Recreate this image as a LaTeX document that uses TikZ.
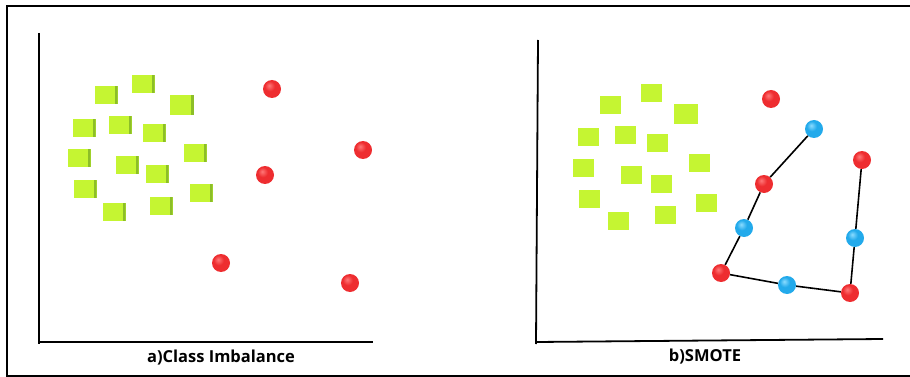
\documentclass[tikz,border=0pt]{standalone}
\usepackage{fontspec}
\setmainfont{Open Sans}
\definecolor{lime}{RGB}{197,245,50}
\definecolor{limedark}{RGB}{140,190,40}
\definecolor{rlight}{RGB}{255,120,120}
\definecolor{rmain}{RGB}{238,45,48}
\definecolor{rdark}{RGB}{160,15,20}
\definecolor{blight}{RGB}{140,220,255}
\definecolor{bmain}{RGB}{35,170,235}
\definecolor{bdark}{RGB}{20,110,185}
\pgfdeclareradialshading{redshade}{\pgfpoint{-8bp}{10bp}}{color(0bp)=(rlight); color(14bp)=(rmain); color(38bp)=(rmain); color(60bp)=(rdark); color(70bp)=(rdark)}
\pgfdeclareradialshading{blueshade}{\pgfpoint{-8bp}{10bp}}{color(0bp)=(blight); color(14bp)=(bmain); color(38bp)=(bmain); color(60bp)=(bdark); color(70bp)=(bdark)}
\tikzset{
  sqflat/.style={rectangle,fill=lime,inner sep=0pt,minimum width=21pt,minimum height=18pt},
  sqdeep/.style={sqflat,minimum width=23pt,path picture={\fill[limedark] ([xshift=-3pt]path picture bounding box.north east) rectangle (path picture bounding box.south east);}},
  rdot/.style={circle,inner sep=0pt,minimum size=18pt,shading=redshade},
  bdot/.style={circle,inner sep=0pt,minimum size=18pt,shading=blueshade},
  link/.style={line width=1.6pt,black},
  axisl/.style={line width=2.6pt,black},
  axisr/.style={line width=1.8pt,black},
  frameline/.style={line width=1.6pt,black},
  caption/.style={font=\fontsize{16.5}{19}\selectfont\bfseries,inner sep=0pt}
}
\begin{document}
\begin{tikzpicture}[x=1pt,y=-1pt]
\useasboundingbox (0,0) rectangle (910,377);
% frame
\coordinate (f1) at (910,6);
\coordinate (f2) at (7,6);
\coordinate (f3) at (7,376);
\coordinate (f4) at (910,376);
\draw[frameline] (f1) -- (f2) -- (f3) -- (f4);
% left axes
\coordinate (la) at (39,33);
\coordinate (lo) at (39,344);
\coordinate (lc) at (38,342);
\coordinate (lx) at (373,342);
\draw[axisl] (la) -- (lo);
\draw[axisl] (lc) -- (lx);
% right axes
\coordinate (ra) at (538,40);
\coordinate (ro) at (536,344);
\coordinate (rc) at (536,342);
\coordinate (rx) at (883,339);
\draw[axisr] (ra) -- (ro);
\draw[axisr] (rc) -- (rx);
% captions
\node[caption] (capa) at (221,358) {a)Class Imbalance};
\node[caption] (capb) at (705,357) {b)SMOTE};
% left squares
\node[sqdeep] (s1) at (106,95) {};
\node[sqdeep] (s2) at (143,84) {};
\node[sqdeep,minimum width=24pt,minimum height=20pt] (s3) at (182,105) {};
\node[sqdeep] (s4) at (84,128) {};
\node[sqdeep] (s5) at (120,125) {};
\node[sqdeep] (s6) at (154,133) {};
\node[sqdeep] (s7) at (79,158) {};
\node[sqdeep] (s8) at (195,153) {};
\node[sqdeep] (s9) at (127,165) {};
\node[sqdeep] (s10) at (157,174) {};
\node[sqdeep] (s11) at (85,189) {};
\node[sqdeep] (s12) at (201,193) {};
\node[sqdeep] (s13) at (114,212) {};
\node[sqdeep] (s14) at (161,206) {};
% left red balls
\node[rdot] (l1) at (272,89) {};
\node[rdot] (l2) at (363,150) {};
\node[rdot] (l3) at (265,175) {};
\node[rdot] (l4) at (221,263) {};
\node[rdot] (l5) at (350,283) {};
% right squares
\node[sqflat] (t1) at (610,105) {};
\node[sqflat] (t2) at (651,93) {};
\node[sqflat,minimum width=24pt,minimum height=20pt] (t3) at (686,114) {};
\node[sqflat] (t4) at (588,137) {};
\node[sqflat] (t5) at (625,135) {};
\node[sqflat] (t6) at (657,143) {};
\node[sqflat] (t7) at (583,168) {};
\node[sqflat] (t8) at (699,163) {};
\node[sqflat] (t9) at (631,175) {};
\node[sqflat] (t10) at (661,184) {};
\node[sqflat] (t11) at (589,199) {};
\node[sqflat] (t12) at (706,203) {};
\node[sqflat] (t13) at (618,221) {};
\node[sqflat] (t14) at (665,215) {};
% right balls
\node[rdot] (r0) at (771,99) {};
\node[bdot] (b1) at (814,129) {};
\node[rdot] (r2) at (764,184) {};
\node[bdot] (b3) at (744,228) {};
\node[rdot] (r4) at (721,273) {};
\node[bdot] (b5) at (787,285) {};
\node[rdot] (r6) at (850,293) {};
\node[bdot] (b7) at (855,238) {};
\node[rdot] (r8) at (862,160) {};
\draw[link] (b1) -- (r2) -- (b3) -- (r4) -- (b5) -- (r6) -- (b7) -- (r8);
\end{tikzpicture}
\end{document}
